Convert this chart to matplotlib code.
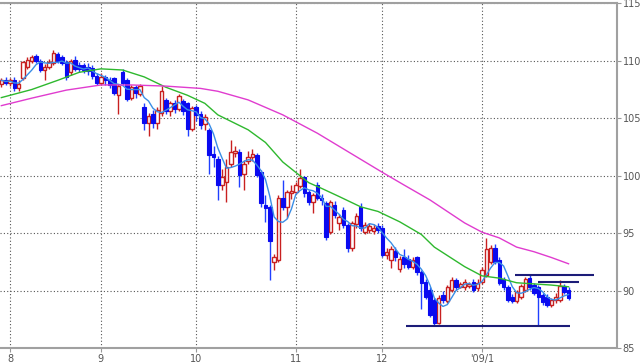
import numpy as np
import pandas as pd
import matplotlib
matplotlib.use('Agg')
import matplotlib.pyplot as plt

# trading day index, 0 = 2008-08-01
day = np.arange(-2, 130)

opens = [108.0, 108.3, 108.1, 108.3, 107.6, 108.5, 109.5, 110.0, 110.4, 110.0,
         109.2, 109.5, 109.8, 110.6, 110.3, 109.9, 109.0, 110.1, 109.6, 109.6,
         109.5, 109.4, 108.7, 108.1, 108.6, 108.3, 108.5, 107.0, 109.0, 108.3,
         106.8, 107.7, 107.1, 106.0, 104.6, 105.4, 104.6, 105.5, 106.6, 105.6,
         106.3, 105.8, 106.5, 106.3, 104.1, 106.0, 105.4, 104.5, 104.0, 101.9,
         101.5, 99.2, 99.5, 101.0, 102.0, 102.1, 100.2, 101.3, 101.6, 101.8,
         100.3, 97.5, 97.3, 92.5, 92.7, 98.1, 97.3, 98.5, 98.6, 99.1,
         99.9, 98.6, 97.7, 99.2, 98.1, 97.6, 95.1, 97.5, 95.9, 97.0,
         95.7, 93.7, 95.8, 97.3, 95.1, 95.3, 95.2, 95.6, 95.5, 93.1,
         92.7, 93.5, 91.9, 92.9, 92.8, 92.1, 92.9, 91.6, 90.8, 90.1,
         89.2, 87.2, 89.6, 89.1, 90.1, 90.9, 90.3, 90.3, 90.4, 90.8,
         90.2, 90.8, 91.4, 92.5, 93.7, 92.7, 91.0, 90.3, 89.5, 89.1,
         89.5, 90.1, 91.1, 90.5, 90.3, 89.6, 89.5, 88.8, 89.2, 89.2,
         90.4, 90.1]
highs = [108.5, 108.6, 108.5, 108.6, 108.3, 110.0, 110.3, 110.5, 110.6, 110.2,
         109.7, 110.2, 110.9, 110.8, 110.5, 110.1, 110.2, 110.4, 109.9, 109.8,
         109.8, 109.6, 108.9, 108.9, 108.8, 108.6, 108.6, 108.0, 109.3, 108.5,
         107.9, 107.9, 108.0, 106.3, 105.5, 105.7, 106.0, 107.8, 106.8, 106.5,
         106.6, 107.1, 106.7, 106.4, 106.1, 106.2, 105.6, 105.4, 104.2, 102.6,
         101.7, 100.6, 101.5, 103.1, 102.6, 102.3, 101.4, 102.2, 102.3, 102.0,
         100.5, 98.3, 97.5, 93.2, 98.3, 99.6, 98.8, 99.2, 99.5, 100.6,
         100.0, 98.8, 98.5, 99.5, 98.4, 97.8, 97.9, 97.8, 96.7, 97.3,
         95.9, 96.1, 96.8, 97.6, 96.0, 95.9, 95.8, 95.9, 95.7, 93.7,
         93.9, 93.8, 93.0, 93.6, 93.1, 92.9, 93.0, 91.8, 91.0, 90.3,
         89.4, 89.6, 90.0, 90.5, 91.2, 91.1, 90.8, 91.0, 90.8, 91.0,
         91.0, 92.1, 94.6, 94.0, 94.1, 92.9, 91.2, 90.5, 89.7, 90.1,
         90.6, 91.2, 91.4, 90.7, 90.5, 89.8, 89.7, 89.4, 89.8, 90.9,
         90.6, 90.3]
lows = [107.7, 107.9, 107.8, 107.4, 107.4, 108.3, 109.3, 109.8, 109.8, 109.0,
        108.3, 109.3, 109.6, 109.8, 109.6, 108.3, 108.8, 109.1, 109.0, 108.9,
        108.8, 108.4, 107.9, 107.9, 107.9, 107.6, 107.0, 105.4, 107.9, 106.5,
        106.6, 106.8, 106.9, 104.0, 103.5, 104.2, 104.1, 105.2, 105.4, 105.2,
        105.5, 105.6, 105.3, 103.5, 103.9, 104.8, 104.1, 104.0, 100.2, 100.8,
        97.9, 98.8, 97.7, 100.8, 101.6, 99.0, 98.8, 101.0, 101.3, 99.9,
        97.3, 96.0, 90.9, 91.8, 92.5, 97.0, 96.3, 98.0, 98.4, 98.9,
        98.2, 97.5, 96.8, 97.9, 97.5, 94.4, 94.9, 96.3, 95.3, 95.5,
        93.4, 93.5, 95.5, 95.2, 94.9, 95.0, 94.9, 95.0, 92.9, 92.8,
        92.0, 92.6, 91.6, 92.0, 91.9, 91.9, 91.4, 88.4, 89.3, 87.7,
        87.0, 87.1, 88.9, 88.9, 89.9, 90.1, 90.2, 90.1, 90.2, 89.9,
        90.0, 90.6, 91.2, 92.3, 92.3, 90.5, 90.1, 89.0, 88.9, 88.9,
        89.3, 89.9, 90.1, 89.6, 86.9, 88.8, 88.6, 88.6, 88.9, 89.0,
        89.7, 89.2]
closes = [108.3, 108.1, 108.3, 107.6, 108.0, 109.9, 110.1, 110.3, 110.0, 109.2,
          109.5, 109.9, 110.7, 110.0, 109.8, 108.6, 110.0, 109.3, 109.3, 109.2,
          109.1, 108.7, 108.1, 108.6, 108.3, 107.9, 107.2, 107.8, 108.1, 106.7,
          107.7, 107.2, 107.8, 104.6, 105.2, 104.6, 105.7, 107.4, 105.6, 106.3,
          105.8, 106.9, 105.6, 104.1, 105.9, 105.3, 104.4, 105.1, 101.8, 101.6,
          99.2, 99.9, 100.8, 102.1, 102.2, 100.1, 101.0, 101.6, 101.9, 100.1,
          97.6, 97.2, 94.3, 92.9, 98.1, 97.3, 98.6, 98.7, 99.2, 99.8,
          98.5, 97.7, 98.3, 98.1, 97.9, 94.7, 97.7, 96.6, 96.4, 95.7,
          93.7, 95.9, 96.5, 95.5, 95.7, 95.6, 95.5, 95.3, 93.1, 93.4,
          93.6, 92.9, 92.8, 92.3, 92.1, 92.7, 91.6, 90.7, 89.5, 87.9,
          87.2, 89.4, 89.2, 90.3, 90.9, 90.3, 90.6, 90.8, 90.6, 90.1,
          90.7, 91.8, 93.6, 93.7, 92.5, 90.7, 90.3, 89.2, 89.1, 89.9,
          90.4, 91.0, 90.3, 89.8, 89.5, 89.0, 88.8, 89.2, 89.5, 90.4,
          89.9, 89.4]

# 25-day and 75-day averages
ma25_day = [-2, 5, 11, 16, 21, 26, 31, 36, 41, 45, 48, 55, 59, 63, 66, 69,
            72, 76, 81, 85, 90, 95, 98, 105, 109, 113, 117, 121, 125, 129]
ma25_val = [106.8, 107.5, 108.3, 109.0, 109.3, 109.2, 108.6, 107.7, 107.0, 106.3,
            105.3, 104.0, 102.9, 101.2, 100.3, 99.4, 98.9, 98.2, 97.3, 96.9,
            96.0, 94.9, 93.8, 92.1, 91.3, 91.1, 90.7, 90.6, 90.5, 90.35]
ma75_day = [-2, 5, 13, 21, 28, 36, 44, 48, 55, 63, 71, 86, 91, 97, 105, 109,
            113, 117, 121, 125, 129]
ma75_val = [106.1, 106.75, 107.45, 107.9, 107.9, 107.8, 107.6, 107.35, 106.6, 105.3,
            103.7, 100.3, 99.2, 97.9, 95.9, 95.1, 94.6, 93.8, 93.4, 92.9, 92.35]

line_lvl = [86.95, 91.4, 90.8]
line_from = [91.5, 116.6, 121.9]
line_to = [129.3, 134.9, 131.4]

month_pos = [0, 21, 43, 66, 86, 109]
month_lbl = ['8', '9', '10', '11', '12', "'09/1"]

o = np.array(opens); h = np.array(highs); l = np.array(lows); c = np.array(closes)
up = c >= o

fig = plt.figure(figsize=(6.4, 3.63), dpi=100)
ax = fig.add_axes([0, 0.0405, 0.964, 0.9504])

# wicks
ax.vlines(day[up], l[up], h[up], color='#c82020', lw=1, zorder=2)
ax.vlines(day[~up], l[~up], h[~up], color='#2040ff', lw=1, zorder=2)
# bodies
ax.bar(day[up], c[up] - o[up], bottom=o[up], width=0.8, color='white',
       edgecolor='#c82020', linewidth=1.0, zorder=3)
ax.bar(day[~up], o[~up] - c[~up], bottom=c[~up], width=0.8, color='#0a0af0',
       edgecolor='#0a0af0', linewidth=0.8, zorder=3)

ma5 = pd.Series(c).rolling(5, min_periods=1).mean()
ax.plot(day, ma5, color='#3a8ee6', lw=1, zorder=4)
ax.plot(ma25_day, ma25_val, color='#2eb82e', lw=1, zorder=4)
ax.plot(ma75_day, ma75_val, color='#e03ccf', lw=1, zorder=4)

for lv, a, b in zip(line_lvl, line_from, line_to):
    ax.hlines(lv, a, b, color='#1c1c78', lw=1.5, zorder=5)

ax.set_xlim(-2.31, 140.18)
ax.set_ylim(85, 115)
ax.set_yticks(range(85, 116, 5))
ax.set_xticks(month_pos)
ax.set_xticklabels(month_lbl)
ax.yaxis.tick_right()
ax.tick_params(axis='both', labelsize=7, colors='#999999', labelcolor='#555555',
               length=3, pad=1)
ax.grid(True, color='#555555', linestyle=(0, (1, 2)), lw=0.8, zorder=1)

ax.spines['left'].set_visible(False)
for s in ['top', 'right', 'bottom']:
    ax.spines[s].set_color('#a0a0a0')
    ax.spines[s].set_linewidth(1.5)

fig.savefig('out.png', dpi=100)
